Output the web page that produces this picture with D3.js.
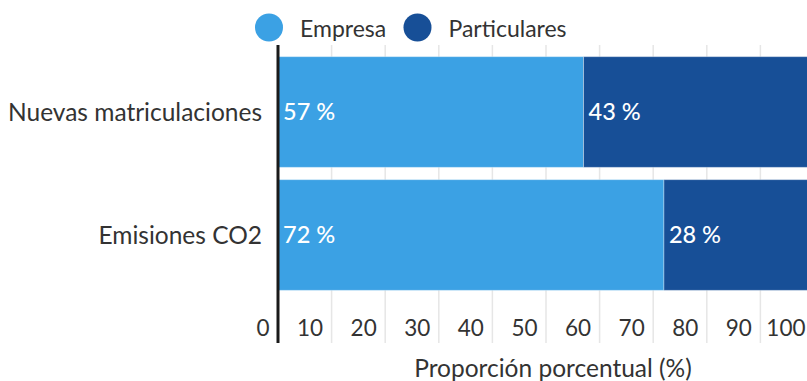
<!DOCTYPE html>
<html>
<head>
<meta charset="utf-8">
<script src="https://cdn.jsdelivr.net/npm/d3@7"></script>
<style>
  html, body { margin: 0; padding: 0; background: #fff; overflow: hidden; }
  svg { display: block; font-family: Lato, "Noto Sans", sans-serif; }
</style>
</head>
<body>
<svg id="chart" width="807" height="381"></svg>
<script>
// Share of new registrations and CO2 emissions: companies vs. private owners
const categories = ["Nuevas matriculaciones", "Emisiones CO2"];
const seriesNames = ["Empresa", "Particulares"];
const empresa = [57, 72];
const particulares = [43, 28];
const tickValues = [0, 10, 20, 30, 40, 50, 60, 70, 80, 90, 100];
const colors = ["#3ba1e4", "#174f97"];
const axisTitle = "Proporción porcentual (%)";

const svg = d3.select("#chart");
const plotLeft = 278, plotRight = 814, plotTop = 50.5, plotBottom = 296.5;
const gridTop = 45, gridBottom = 343;

const x = d3.scaleLinear().domain([0, 100]).range([plotLeft, plotRight]);
const y = d3.scaleBand().domain(categories).range([plotTop, plotBottom])
  .paddingInner(0.1).paddingOuter(0.05);

// gridlines
svg.append("g").selectAll("line")
  .data(tickValues.slice(1))
  .join("line")
  .attr("x1", d => x(d)).attr("x2", d => x(d))
  .attr("y1", gridTop).attr("y2", gridBottom)
  .attr("stroke", "#e6e6e6").attr("stroke-width", 1.5);

// stacked bars
const rows = categories.map((c, i) => ({ cat: c, Empresa: empresa[i], Particulares: particulares[i] }));
const stacked = d3.stack().keys(seriesNames)(rows);

const layers = svg.append("g").selectAll("g")
  .data(stacked)
  .join("g")
  .attr("fill", (d, i) => colors[i]);

layers.selectAll("rect")
  .data(d => d)
  .join("rect")
  .attr("x", d => x(d[0]))
  .attr("width", d => x(d[1]) - x(d[0]))
  .attr("y", d => y(d.data.cat))
  .attr("height", y.bandwidth())
  .attr("stroke", "rgba(255,255,255,0.35)")
  .attr("stroke-width", 1);

// value labels inside segments
layers.selectAll("text")
  .data(d => d.map(v => ({ v, key: d.key })))
  .join("text")
  .attr("x", d => x(d.v[0]) + 5)
  .attr("y", d => y(d.v.data.cat) + y.bandwidth() / 2)
  .attr("dy", "0.36em")
  .attr("fill", "#fff")
  .attr("font-size", 23.5)
  .attr("font-weight", 500)
  .text(d => `${d.v.data[d.key]} %`);

// category labels
svg.append("g").selectAll("text")
  .data(categories)
  .join("text")
  .attr("x", plotLeft - 16)
  .attr("y", d => y(d) + y.bandwidth() / 2)
  .attr("dy", "0.36em")
  .attr("text-anchor", "end")
  .attr("fill", "#333")
  .attr("font-size", 24.5)
  .text(d => d);

// x axis tick labels, set just left of each tick
const xAxis = d3.axisBottom(x).tickValues(tickValues).tickSize(0).tickFormat(d3.format("d"));
const axisG = svg.append("g").attr("transform", `translate(0,${gridBottom - 7})`).call(xAxis);
axisG.select(".domain").remove();
axisG.selectAll("text")
  .attr("y", 0).attr("dy", 0)
  .attr("x", -9)
  .attr("text-anchor", "end")
  .attr("fill", "#333")
  .attr("font-size", 22.5)
  .attr("font-family", "Lato, 'Noto Sans', sans-serif");

// vertical baseline
svg.append("line")
  .attr("x1", x(0)).attr("x2", x(0))
  .attr("y1", gridTop).attr("y2", gridBottom)
  .attr("stroke", "#1a1a1a").attr("stroke-width", 3);

// axis title
svg.append("text")
  .attr("x", 553).attr("y", 377)
  .attr("text-anchor", "middle")
  .attr("fill", "#333")
  .attr("font-size", 24.5)
  .text(axisTitle);

// legend
const legendX = [269, 417.5];
const legend = svg.append("g").selectAll("g")
  .data(seriesNames)
  .join("g")
  .attr("transform", (d, i) => `translate(${legendX[i]},27.5)`);
legend.append("circle").attr("r", 14).attr("fill", (d, i) => colors[i]);
legend.append("text")
  .attr("x", 31).attr("y", 9.5)
  .attr("fill", "#333")
  .attr("font-size", 23)
  .text(d => d);
</script>
</body>
</html>
